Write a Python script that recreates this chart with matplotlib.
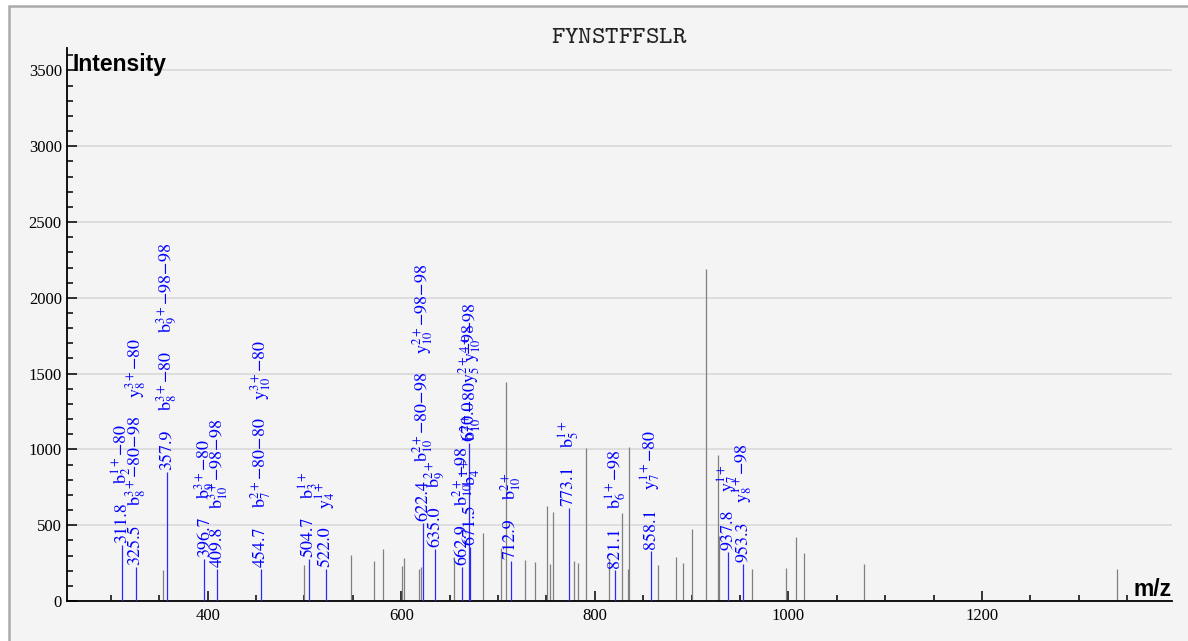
import matplotlib
matplotlib.use("Agg")
import matplotlib.pyplot as plt
from matplotlib.ticker import MultipleLocator
from matplotlib.patches import Rectangle

# ---------------- data ----------------
title = "FYNSTFFSLR"

# unannotated (gray) peaks
gray_mz = [353.6, 499.5, 548.4, 572.1, 581.1, 601.0, 603.1, 618.6, 620.7, 654.8,
           684.7, 703.0, 707.9, 728.1, 737.8, 750.2, 753.3, 756.4, 778.4, 782.3,
           790.4, 814.2, 828.3, 834.5, 835.2, 864.9, 884.2, 891.4, 900.6, 914.8,
           927.2, 928.6, 962.3, 997.8, 1007.4, 1015.7, 1077.7, 1339.0]
gray_int = [204, 237, 303, 264, 343, 233, 281, 209, 226, 288,
            451, 352, 1447, 270, 255, 629, 244, 587, 264, 253,
            1011, 277, 578, 211, 1018, 237, 288, 248, 473, 2188,
            961, 431, 211, 220, 424, 314, 242, 211]

# annotated (blue) peaks
ann_mz = [311.8, 325.5, 357.9, 396.7, 409.8, 454.7, 504.7, 522.0, 622.4, 635.0,
          662.9, 670.0, 671.5, 712.9, 773.1, 821.1, 858.1, 937.8, 953.3]
ann_int = [369, 226, 853, 275, 209, 211, 275, 209, 512, 343,
           222, 1040, 356, 264, 611, 204, 330, 321, 244]
ann_ions = [
    [r"$\mathrm{b}^{1+}_{2}$−80"],
    [r"$\mathrm{b}^{3+}_{8}$−80−98", r"$\mathrm{y}^{3+}_{8}$−80"],
    [r"$\mathrm{b}^{3+}_{8}$−80", r"$\mathrm{b}^{3+}_{9}$−98−98"],
    [r"$\mathrm{b}^{3+}_{9}$−80"],
    [r"$\mathrm{b}^{3+}_{10}$−98−98"],
    [r"$\mathrm{b}^{2+}_{7}$−80−80", r"$\mathrm{y}^{3+}_{10}$−80"],
    [r"$\mathrm{b}^{1+}_{3}$"],
    [r"$\mathrm{y}^{1+}_{4}$"],
    [r"$\mathrm{b}^{2+}_{10}$−80−98", r"$\mathrm{y}^{2+}_{10}$−98−98"],
    [r"$\mathrm{b}^{2+}_{9}$"],
    [r"$\mathrm{b}^{2+}_{10}$−98"],
    [r"$\mathrm{y}^{2+}_{5}$−98"],
    [r"$\mathrm{b}^{1+}_{4}$", r"$\mathrm{b}^{2+}_{10}$−80", r"$\mathrm{y}^{4+}_{10}$−98"],
    [r"$\mathrm{b}^{2+}_{10}$"],
    [r"$\mathrm{b}^{1+}_{5}$"],
    [r"$\mathrm{b}^{1+}_{6}$−98"],
    [r"$\mathrm{y}^{1+}_{7}$−80"],
    [r"$\mathrm{y}^{1+}_{7}$"],
    [r"$\mathrm{y}^{1+}_{8}$−98"],
]

x_label = "m/z"
y_label = "Intensity"

# ---------------- style ----------------
plt.rcParams["mathtext.fontset"] = "stix"
W, H = 1188, 641
BLUE = "#0000ff"
GRAY = "#808080"
LABEL_FS = 13
GAP = 13  # points between stacked labels

fig = plt.figure(figsize=(W / 100, H / 100), dpi=100, facecolor="white")
fig.patches.append(Rectangle((8.5 / W, -0.05), 1.2, 1.05 - 6 / H,
                             transform=fig.transFigure, facecolor="#f4f4f4",
                             edgecolor="#aaaaaa", lw=1.8, zorder=-10))

ax = fig.add_axes([66.7 / W, 40 / H, 1105 / W, 553 / H])
ax.patch.set_visible(False)
ax.set_xlim(254.4, 1395.9)
ax.set_ylim(0, 3648)

for s in ("top", "right"):
    ax.spines[s].set_visible(False)
for s in ("left", "bottom"):
    ax.spines[s].set_linewidth(1.3)
    ax.spines[s].set_color("black")

ax.xaxis.set_major_locator(MultipleLocator(200))
ax.xaxis.set_minor_locator(MultipleLocator(50))
ax.yaxis.set_major_locator(MultipleLocator(500))
ax.yaxis.set_minor_locator(MultipleLocator(100))
ax.tick_params(axis="both", which="major", direction="in", length=7, width=1.1)
ax.tick_params(axis="both", which="minor", direction="in", length=4, width=1.1)
ax.tick_params(axis="x", which="major", pad=5)
ax.tick_params(axis="y", which="major", pad=3.5)
for lab in ax.get_xticklabels() + ax.get_yticklabels():
    lab.set_fontfamily("Liberation Serif")
    lab.set_fontsize(12)

ax.yaxis.grid(True, which="major", color="#dddddd", lw=1.4)
ax.set_axisbelow(True)

# peaks
ax.vlines(gray_mz, 0, gray_int, color=GRAY, lw=0.9, zorder=2)
ax.vlines(ann_mz, 0, ann_int, color="#2a2aff", lw=0.9, zorder=3)

# stacked labels
for mz, inten, ions in zip(ann_mz, ann_int, ann_ions):
    prev = ax.annotate(f"{mz:.1f}", xy=(mz, inten), xytext=(0, 1.5),
                       textcoords="offset points", rotation=90, ha="center",
                       va="bottom", color=BLUE, fontsize=LABEL_FS,
                       family="STIXGeneral", annotation_clip=False, zorder=4)
    for t in ions:
        prev = ax.annotate(t, xy=(0.5, 1.0), xycoords=prev, xytext=(0, GAP),
                           textcoords="offset points", rotation=90, ha="center",
                           va="bottom", color=BLUE, fontsize=LABEL_FS,
                           family="STIXGeneral", annotation_clip=False, zorder=4)

# title and axis labels
fig.text(619.2 / W, 1 - 43 / H, r"$\mathtt{" + title + "}$", ha="center",
         va="baseline", math_fontfamily="cm", fontsize=18.5, color="#222222")
fig.text(72 / W, 1 - 71 / H, y_label, ha="left", va="baseline",
         family="Liberation Sans", fontweight="bold", fontsize=16.5)
fig.text(1172 / W, 1 - 596 / H, x_label, ha="right", va="baseline",
         family="Liberation Sans", fontweight="bold", fontsize=16.5)

fig.savefig("out.png", dpi=100, facecolor=fig.get_facecolor())
